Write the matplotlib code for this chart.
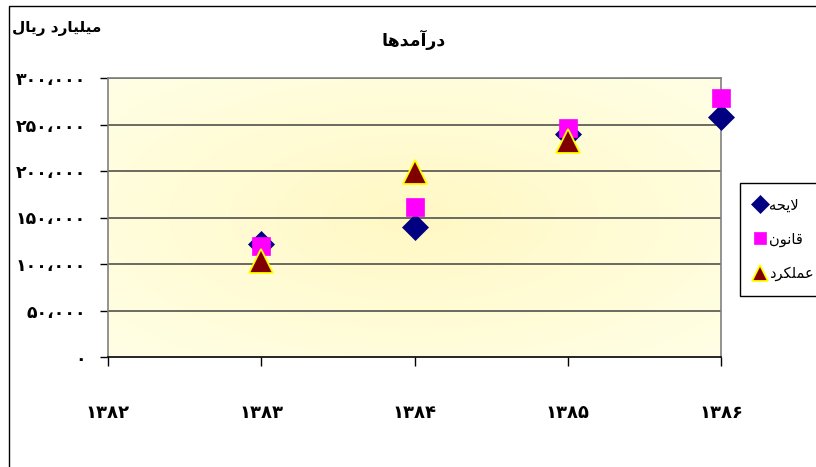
import numpy as np
import matplotlib
matplotlib.use("Agg")
import matplotlib.pyplot as plt
from matplotlib.patches import Rectangle

plt.rcParams['font.family'] = ['DejaVu Sans']

# data
years = [1383, 1384, 1385, 1386]
layeheh = [121000, 140000, 240000, 258000]    # لایحه
qanun = [119000, 161000, 246000, 279000]      # قانون
amalkard_years = [1383, 1384, 1385]
amalkard = [103000, 199000, 232000]           # عملکرد

x_ticks = [1382, 1383, 1384, 1385, 1386]
y_ticks = [0, 50000, 100000, 150000, 200000, 250000, 300000]

title = "درآمدها"
y_unit = "میلیارد ریال"
names = ["لایحه", "قانون", "عملکرد"]

# matplotlib has no arabic shaping, so do it by hand with presentation forms
FORMS = {
    'ا': ('\uFE8D', '\uFE8E'),
    'آ': ('\uFE81', '\uFE82'),
    'د': ('\uFEA9', '\uFEAA'),
    'ر': ('\uFEAD', '\uFEAE'),
    'و': ('\uFEED', '\uFEEE'),
    'م': ('\uFEE1', '\uFEE2', '\uFEE3', '\uFEE4'),
    'ه': ('\uFEE9', '\uFEEA', '\uFEEB', '\uFEEC'),
    'ل': ('\uFEDD', '\uFEDE', '\uFEDF', '\uFEE0'),
    'ح': ('\uFEA1', '\uFEA2', '\uFEA3', '\uFEA4'),
    'ق': ('\uFED5', '\uFED6', '\uFED7', '\uFED8'),
    'ن': ('\uFEE5', '\uFEE6', '\uFEE7', '\uFEE8'),
    'ع': ('\uFEC9', '\uFECA', '\uFECB', '\uFECC'),
    'ی': ('\uFBFC', '\uFBFD', '\uFBFE', '\uFBFF'),
    'ک': ('\uFB8E', '\uFB8F', '\uFB90', '\uFB91'),
}
LAM_ALEF = {'ا': ('\uFEFB', '\uFEFC'), 'آ': ('\uFEF5', '\uFEF6')}


def shape(text):
    out = []
    i = 0
    prev_joins = False
    while i < len(text):
        c = text[i]
        f = FORMS.get(c)
        if f is None:
            out.append(c)
            prev_joins = False
            i += 1
            continue
        if c == 'ل' and i + 1 < len(text) and text[i + 1] in LAM_ALEF:
            out.append(LAM_ALEF[text[i + 1]][1 if prev_joins else 0])
            prev_joins = False
            i += 2
            continue
        nxt = text[i + 1] if i + 1 < len(text) else ''
        joins_next = len(f) == 4 and nxt in FORMS
        if prev_joins and joins_next:
            g = f[3]
        elif prev_joins:
            g = f[1]
        elif joins_next:
            g = f[2]
        else:
            g = f[0]
        out.append(g)
        prev_joins = joins_next
        i += 1
    return ''.join(reversed(out))


def fa_num(v, group=True):
    s = f"{v:,}" if group else str(v)
    s = s.replace(',', '،')
    return s.translate(str.maketrans('0123456789', '۰۱۲۳۴۵۶۷۸۹'))


fig = plt.figure(figsize=(8.16, 4.67), dpi=100)
ax = fig.add_axes([108 / 816, 1 - 357 / 467, (721 - 108) / 816, (357 - 78) / 467])

# outer chart frame (only left and top are inside the picture)
fig.add_artist(Rectangle((9 / 816, -0.2), 1.2, 0.2 + (467 - 6) / 467,
                         transform=fig.transFigure, fill=False,
                         edgecolor='black', linewidth=1.0))

# radial light yellow fill of the plot area
gx, gy = np.meshgrid(np.linspace(-1, 1, 300), np.linspace(-1, 1, 200))
r = np.clip(np.sqrt(gx ** 2 + gy ** 2) / 1.41, 0, 1)
c0 = np.array([255, 248, 196]) / 255
c1 = np.array([255, 255, 230]) / 255
img = c0[None, None, :] + (c1 - c0)[None, None, :] * r[:, :, None]
ax.imshow(img, extent=(1382, 1386, 0, 300000), aspect='auto', zorder=0,
          interpolation='bilinear')

for yv in y_ticks[1:]:
    ax.axhline(yv, color='#6a6a60', linewidth=1.4, zorder=1)

ax.plot(years, layeheh, linestyle='none', marker='D', markersize=13.5,
        color='#000080', markeredgewidth=0.5, zorder=3, clip_on=False,
        label=shape(names[0]))
ax.plot(years, qanun, linestyle='none', marker='s', markersize=13,
        color='#ff00ff', markeredgewidth=0.5, zorder=4, clip_on=False,
        label=shape(names[1]))
ax.plot(amalkard_years, amalkard, linestyle='none', marker='^', markersize=17,
        markerfacecolor='#800000', markeredgecolor='#ffff00',
        markeredgewidth=1.3, zorder=5, clip_on=False, label=shape(names[2]))

ax.set_xlim(1382, 1386)
ax.set_ylim(0, 300000)
ax.set_xticks(x_ticks)
ax.set_xticklabels([fa_num(v, group=False) for v in x_ticks],
                   fontsize=13, fontweight='bold')
ax.set_yticks(y_ticks)
ax.set_yticklabels([fa_num(v) for v in y_ticks], fontsize=12.5, fontweight='bold')
ax.tick_params(axis='x', direction='out', length=6.5, width=1, pad=27)
ax.tick_params(axis='y', direction='out', length=6, width=1, pad=10)

for side in ['left', 'right', 'top']:
    ax.spines[side].set_color('#808080')
    ax.spines[side].set_linewidth(1.2)
ax.spines['bottom'].set_color('black')
ax.spines['bottom'].set_linewidth(1.2)

fig.text(414 / 816, 1 - 40 / 467, shape(title), ha='center', va='center',
         fontsize=12.5, fontweight='bold')
fig.text(12 / 816, 1 - 28 / 467, shape(y_unit), ha='left', va='center',
         fontsize=11, fontweight='bold')

leg = fig.legend(loc='upper left', bbox_to_anchor=(740 / 816, 1 - 183 / 467),
                 fontsize=10.5, markerscale=0.7, handlelength=0.7,
                 handletextpad=0.3, labelspacing=1.3, borderpad=1.0,
                 borderaxespad=0, fancybox=False, framealpha=1,
                 edgecolor='black')
leg.get_frame().set_linewidth(1.0)

fig.savefig('out.png', dpi=100)
